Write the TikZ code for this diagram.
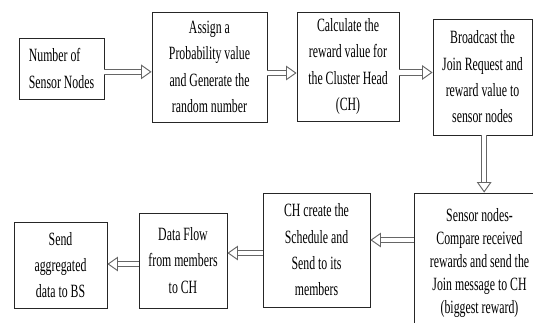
\documentclass[tikz,border=0pt]{standalone}
\usepackage{fontspec}
\setmainfont{Liberation Serif}[FakeStretch=0.63]
\usetikzlibrary{arrows.meta}

\begin{document}
\begin{tikzpicture}[
    x=0.03cm, y=-0.03cm,
    box/.style={draw=black!85, line width=0.7pt, inner sep=1pt, align=center,
        font=\fontsize{16}{22.5}\selectfont},
    arrow/.style={draw=black!60, double=white, double distance=3.6pt, line width=0.8pt,
        -{Triangle[open, length=9pt, width=12.5pt]}}
]
    \useasboundingbox (0,0) rectangle (533,322);
    \clip (0,0) rectangle (533,322);

    % Top row
    \node[box, align=left, minimum width=2.55cm, minimum height=1.83cm] (n) at (61.5,68.5) {Number of\\Sensor Nodes};
    \node[box, minimum width=3.45cm, minimum height=3.3cm] (p) at (209.5,67) {Assign a\\Probability value\\and Generate the\\random number};
    \node[box, minimum width=3.06cm, minimum height=3.27cm] (r) at (348,66.5) {Calculate the\\reward value for\\the Cluster Head\\(CH)};
    \node[box, minimum width=2.97cm, minimum height=3.48cm] (b) at (482.5,77) {Broadcast the\\Join Request and\\reward value to\\sensor nodes};

    % Bottom row
    \node[box, minimum width=3.93cm, minimum height=4.2cm, font=\fontsize{16}{19.5}\selectfont] (s) at (479.5,263) {Sensor nodes-\\Compare received\\rewards and send the\\Join message to CH\\(biggest reward)};
    \node[box, minimum width=3.21cm, minimum height=3.42cm] (c) at (316.5,250) {CH create the\\Schedule and\\Send to its\\members};
    \node[box, minimum width=2.64cm, minimum height=2.85cm] (d) at (183,260.5) {Data Flow\\from members\\to CH};
    \node[box, minimum width=2.79cm, minimum height=2.58cm] (a) at (60.5,265) {Send\\aggregated\\data to BS};

    % Arrows
    \draw[arrow] ([yshift=-0.1cm]n.east) -- ([yshift=-0.1cm]n.east -| p.west);
    \draw[arrow] ([yshift=-0.18cm]p.east) -- ([yshift=-0.18cm]p.east -| r.west);
    \draw[arrow] ([yshift=-0.18cm]r.east) -- ([yshift=-0.18cm]r.east -| b.west);
    \draw[arrow] ([xshift=0.05cm]b.south) -- ([xshift=0.05cm]b.south |- s.north);
    \draw[arrow] (s.west |- 0,240) -- (c.east |- 0,240);
    \draw[arrow] (c.west |- 0,253) -- (d.east |- 0,253);
    \draw[arrow] (d.west |- 0,264) -- (a.east |- 0,264);
\end{tikzpicture}
\end{document}
